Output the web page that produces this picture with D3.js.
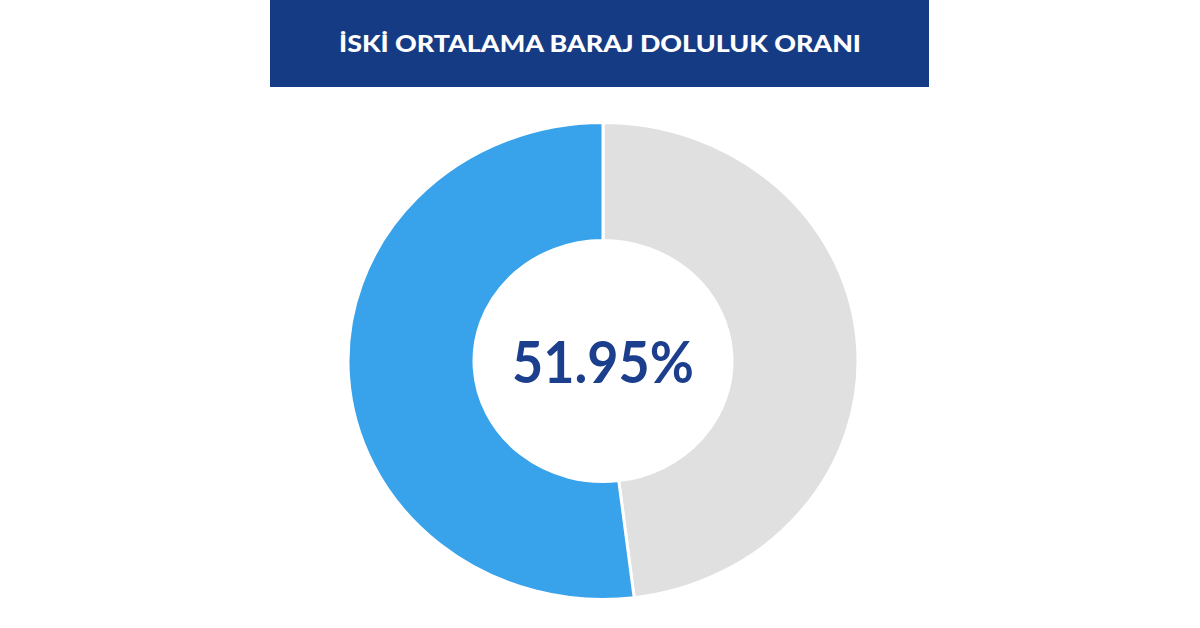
<!DOCTYPE html>
<html>
<head>
<meta charset="utf-8">
<script src="https://cdn.jsdelivr.net/npm/d3@7"></script>
<style>
  html, body { margin: 0; padding: 0; background: #ffffff; }
  svg { display: block; }
</style>
</head>
<body>
<svg id="chart" width="1200" height="628"></svg>
<script>
const title = "İSKİ ORTALAMA BARAJ DOLULUK ORANI";
const categories = ["Boş", "Dolu"];
const values = [48.05, 51.95];
const colors = ["#e0e0e0", "#38a2eb"];
const centerLabel = "51.95%";

const svg = d3.select("#chart");
const W = 1200, H = 628;

// Title bar
svg.append("rect")
  .attr("x", 270).attr("y", 0)
  .attr("width", 659).attr("height", 87)
  .attr("fill", "#163b85");
svg.append("text")
  .attr("x", 600).attr("y", 52)
  .attr("text-anchor", "middle")
  .attr("fill", "#ffffff")
  .attr("font-family", "Lato, 'Open Sans', sans-serif")
  .attr("font-weight", 900)
  .attr("font-size", 23)
  .attr("textLength", 522)
  .attr("lengthAdjust", "spacingAndGlyphs")
  .text(title);

// Donut (slightly squashed vertically like the reference)
const outerR = 255, innerR = 129;
const pie = d3.pie().sort(null).value(d => d);
const arc = d3.arc().innerRadius(innerR).outerRadius(outerR);
const g = svg.append("g").attr("transform", "translate(603,361) scale(1,0.935)");
g.selectAll("path")
  .data(pie(values))
  .join("path")
  .attr("d", arc)
  .attr("fill", (d, i) => colors[i])
  .attr("stroke", "#ffffff")
  .attr("stroke-width", 3);

// Center label
svg.append("text")
  .attr("x", 603).attr("y", 383)
  .attr("text-anchor", "middle")
  .attr("fill", "#1c3f8d")
  .attr("font-family", "Lato, 'Open Sans', sans-serif")
  .attr("font-weight", 700)
  .attr("font-size", 57)
  .attr("textLength", 182)
  .attr("lengthAdjust", "spacingAndGlyphs")
  .text(centerLabel);
</script>
</body>
</html>
